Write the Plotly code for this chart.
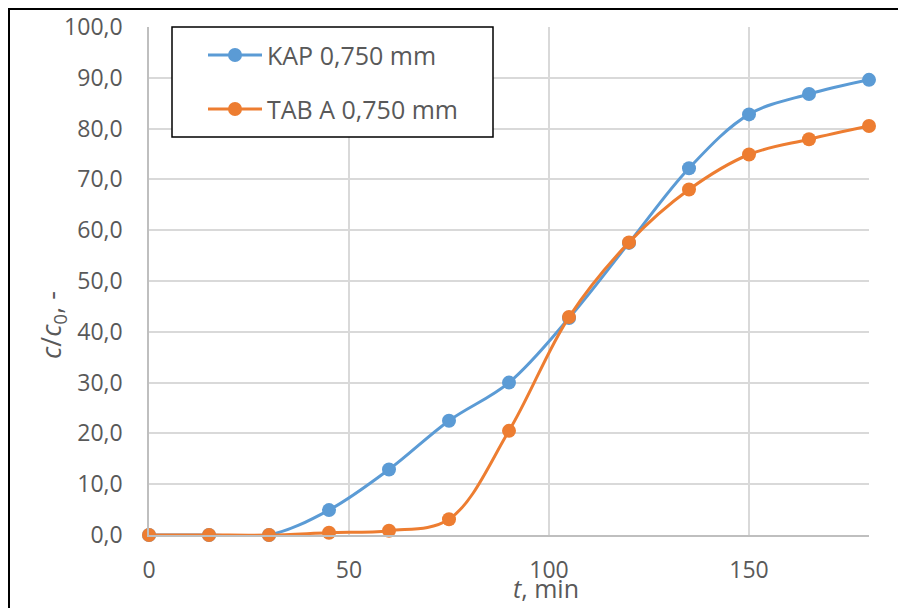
import plotly.graph_objects as go

t_min = [0, 15, 30, 45, 60, 75, 90, 105, 120, 135, 150, 165, 180]
kap_0750 = [0.0, 0.0, 0.0, 4.9, 12.9, 22.5, 30.0, 42.7, 57.5, 72.2, 82.8, 86.8, 89.6]
tab_a_0750 = [0.0, 0.0, 0.0, 0.45, 0.85, 3.1, 20.5, 42.9, 57.6, 68.0, 74.9, 77.9, 80.5]
series_names = ["KAP 0,750 mm", "TAB A 0,750 mm"]
colors = ["#5B9BD5", "#ED7D31"]

FONT = "Open Sans"
GRAY = "#595959"

fig = go.Figure()
for name, ys, col in zip(series_names, [kap_0750, tab_a_0750], colors):
    fig.add_trace(go.Scatter(
        x=t_min, y=ys, name=name, mode="lines+markers",
        line=dict(color=col, width=3, shape="spline", smoothing=1),
        marker=dict(color=col, size=14),
        cliponaxis=False, showlegend=False,
    ))

# page offset (body margin) and figure size
OFF = 8
FW, FH = 906 - OFF, 608 - OFF
# plot area geometry in page pixels
L, R, T, B = 149, 869, 27, 535
W, H = R - L, B - T
def px(x):
    return (x - L) / W
def py(y):
    return (B - y) / H

shapes = []
annotations = []
# outer chart border
shapes.append(dict(type="rect", xref="paper", yref="paper",
                   x0=px(9), x1=px(1000), y0=py(700), y1=py(9),
                   line=dict(color="black", width=2), layer="below"))
# legend box
shapes.append(dict(type="rect", xref="paper", yref="paper",
                   x0=px(172), x1=px(493), y0=py(137), y1=py(27),
                   line=dict(color="black", width=1.5), fillcolor="white"))
for i, (name, col) in enumerate(zip(series_names, colors)):
    yy = [55, 109][i]
    shapes.append(dict(type="line", xref="paper", yref="paper",
                       x0=px(208), x1=px(262), y0=py(yy), y1=py(yy),
                       line=dict(color=col, width=3)))
    shapes.append(dict(type="circle", xref="paper", yref="paper",
                       xsizemode="pixel", ysizemode="pixel",
                       xanchor=px(235), yanchor=py(yy),
                       x0=-7, x1=7, y0=-7, y1=7,
                       line=dict(color=col, width=0), fillcolor=col))
    annotations.append(dict(xref="paper", yref="paper", x=px(265), y=py(yy),
                            xanchor="left", yanchor="middle", showarrow=False,
                            text=name, font=dict(family=FONT, size=25, color=GRAY)))

annotations.append(dict(xref="paper", yref="paper", x=px(546), y=py(607),
                        xanchor="center", yanchor="bottom", showarrow=False,
                        text="<i>t</i>, min", font=dict(family=FONT, size=25, color=GRAY)))
annotations.append(dict(xref="paper", yref="paper", x=px(52), y=py(325),
                        xanchor="center", yanchor="middle", showarrow=False, textangle=-90,
                        text="<i>c</i>/<i>c</i><sub>0</sub>, -", font=dict(family=FONT, size=27, color=GRAY)))

fig.update_layout(
    width=FW, height=FH,
    margin=dict(l=L - OFF, r=906 - R, t=T - OFF, b=608 - B),
    paper_bgcolor="white", plot_bgcolor="white",
    separators=",.",
    showlegend=False,
    shapes=shapes, annotations=annotations,
    font=dict(family=FONT, color=GRAY),
)
fig.update_xaxes(range=[0, 180], dtick=50, tick0=0, showgrid=True, gridcolor="#d9d9d9", gridwidth=1.5,
                 showline=True, linecolor="#bfbfbf", linewidth=1.5, zeroline=False, automargin=False,
                 ticks="", ticklabelstandoff=14, tickfont=dict(family=FONT, size=23, color=GRAY))
fig.update_yaxes(range=[0, 100], dtick=10, tick0=0, tickformat=".1f", showgrid=True, gridcolor="#d9d9d9",
                 gridwidth=1.5, showline=True, linecolor="#bfbfbf", linewidth=1.5, zeroline=False,
                 automargin=False,
                 ticks="", ticklabelstandoff=20, tickfont=dict(family=FONT, size=23, color=GRAY))

fig.write_html("out.html")
